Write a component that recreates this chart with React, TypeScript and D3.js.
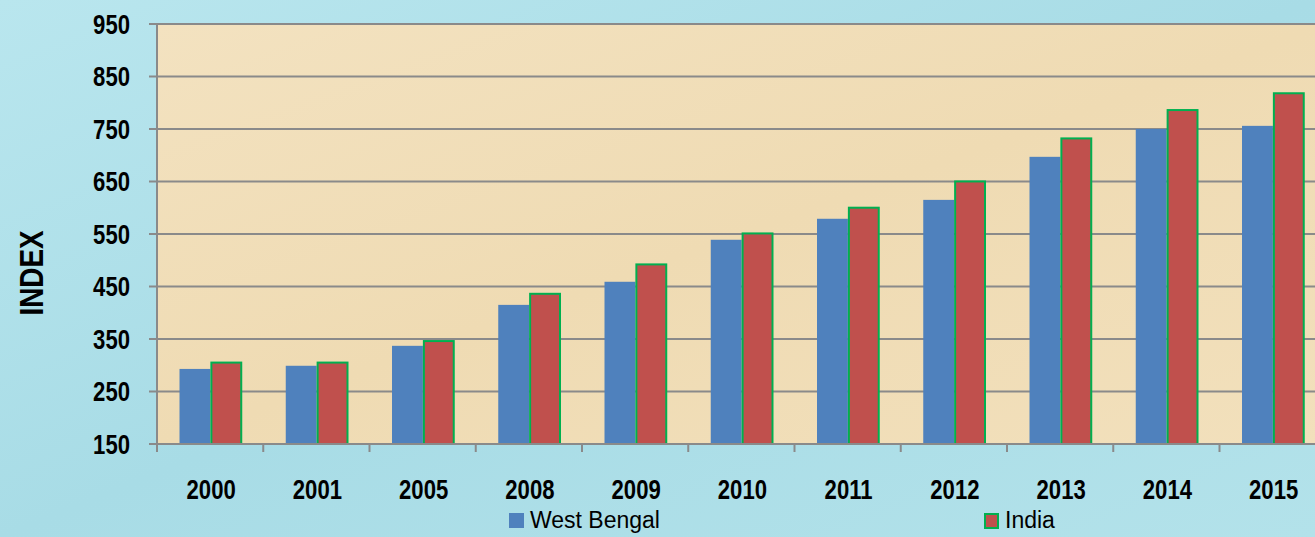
import { useEffect, useRef } from "react";
import * as d3 from "d3";

const years = ["2000", "2001", "2005", "2008", "2009", "2010", "2011", "2012", "2013", "2014", "2015"];
const westBengal = [293, 299, 337, 415, 459, 539, 579, 615, 697, 750, 756];
const india = [307, 307, 348, 438, 494, 553, 602, 652, 734, 788, 820];
const seriesNames = ["West Bengal", "India"];
const yTicks = [150, 250, 350, 450, 550, 650, 750, 850, 950];

export default function App() {
    const ref = useRef<SVGSVGElement>(null);

    useEffect(() => {
        const width = 1315;
        const height = 537;
        const left = 157;
        const top = 24;
        const bottom = 444;
        const step = 106.25;
        const squeeze = 0.82; // fake a narrow face

        const svg = d3.select(ref.current)
            .attr("width", width)
            .attr("height", height);

        svg.selectAll("*").remove();

        // backgrounds
        const defs = svg.append("defs");
        const bg = defs.append("linearGradient").attr("id", "bgGrad")
            .attr("x1", 0).attr("y1", 0).attr("x2", 1).attr("y2", 1);
        bg.append("stop").attr("offset", "0%").attr("stop-color", "#b9e6ee");
        bg.append("stop").attr("offset", "50%").attr("stop-color", "#a8dce6");
        bg.append("stop").attr("offset", "100%").attr("stop-color", "#b3e2ea");

        const pa = defs.append("linearGradient").attr("id", "plotGrad")
            .attr("x1", 0).attr("y1", 0).attr("x2", 1).attr("y2", 1);
        pa.append("stop").attr("offset", "0%").attr("stop-color", "#f3e2c0");
        pa.append("stop").attr("offset", "50%").attr("stop-color", "#efdbb3");
        pa.append("stop").attr("offset", "100%").attr("stop-color", "#f2e0bc");

        svg.append("rect").attr("width", width).attr("height", height).attr("fill", "url(#bgGrad)");

        const x0 = d3.scaleBand()
            .domain(years)
            .range([left, left + step * years.length])
            .padding(0);

        const x1 = d3.scaleBand()
            .domain(seriesNames)
            .range([22.5, x0.bandwidth() - 22]);

        const y = d3.scaleLinear()
            .domain([150, 950])
            .range([bottom, top]);

        svg.append("rect")
            .attr("x", left)
            .attr("y", top)
            .attr("width", x0.range()[1] - left)
            .attr("height", bottom - top)
            .attr("fill", "url(#plotGrad)");

        // gridlines
        svg.append("g")
            .selectAll("line")
            .data(yTicks)
            .join("line")
            .attr("x1", left - 8)
            .attr("x2", x0.range()[1])
            .attr("y1", d => y(d))
            .attr("y2", d => y(d))
            .attr("stroke", "#8a8a8a")
            .attr("stroke-width", 2);

        // y axis line
        svg.append("line")
            .attr("x1", left).attr("x2", left)
            .attr("y1", top).attr("y2", bottom)
            .attr("stroke", "#8a8a8a").attr("stroke-width", 2);

        // x ticks
        svg.append("g")
            .selectAll("line")
            .data(years.concat(["end"]))
            .join("line")
            .attr("x1", (_, i) => left + i * x0.step())
            .attr("x2", (_, i) => left + i * x0.step())
            .attr("y1", bottom)
            .attr("y2", bottom + 8)
            .attr("stroke", "#8a8a8a")
            .attr("stroke-width", 2);

        const data = years.map((yr, i) => ({ year: yr, values: [westBengal[i], india[i]] }));
        const colors = ["#4f81bd", "#c0504d"];

        const groups = svg.append("g")
            .selectAll("g")
            .data(data)
            .join("g")
            .attr("transform", d => `translate(${x0(d.year)},0)`);

        groups.selectAll("rect")
            .data(d => d.values.map((v, j) => ({ name: seriesNames[j], v, j })))
            .join("rect")
            .attr("x", d => x1(d.name)! + (d.j === 1 ? 1 : 0))
            .attr("y", d => y(d.v) + (d.j === 1 ? 1 : 0))
            .attr("width", d => x1.bandwidth() - (d.j === 1 ? 1 : 0))
            .attr("height", d => bottom - y(d.v) - (d.j === 1 ? 1 : 0))
            .attr("fill", d => colors[d.j])
            .attr("stroke", d => (d.j === 1 ? "#00b050" : "none"))
            .attr("stroke-width", 2);

        // x axis line
        svg.append("line")
            .attr("x1", left - 8).attr("x2", x0.range()[1])
            .attr("y1", bottom).attr("y2", bottom)
            .attr("stroke", "#8a8a8a").attr("stroke-width", 2);

        const font = "'Liberation Sans', Arial, sans-serif";

        // y labels
        svg.append("g")
            .selectAll("text")
            .data(yTicks)
            .join("text")
            .attr("transform", d => `translate(130,${y(d)}) scale(${squeeze},1)`)
            .attr("dy", "0.36em")
            .attr("text-anchor", "end")
            .attr("font-family", font)
            .attr("font-weight", "bold")
            .attr("font-size", 27)
            .attr("fill", "#000")
            .text(d => d);

        // x labels
        svg.append("g")
            .selectAll("text")
            .data(years)
            .join("text")
            .attr("transform", d => `translate(${x0(d)! + x0.bandwidth() / 2 + 1},499) scale(${squeeze},1)`)
            .attr("text-anchor", "middle")
            .attr("font-family", font)
            .attr("font-weight", "bold")
            .attr("font-size", 27)
            .attr("fill", "#000")
            .text(d => d);

        svg.append("text")
            .attr("transform", `translate(43,273) rotate(-90) scale(${squeeze},1)`)
            .attr("text-anchor", "middle")
            .attr("font-family", font)
            .attr("font-weight", "bold")
            .attr("font-size", 34)
            .attr("fill", "#000")
            .text("INDEX");

        // legend
        const legendX = [509, 984];
        const legend = svg.append("g")
            .selectAll("g")
            .data(seriesNames)
            .join("g")
            .attr("transform", (_, i) => `translate(${legendX[i]},513)`);

        legend.append("rect")
            .attr("x", (_, i) => (i === 1 ? 1 : 0))
            .attr("y", (_, i) => (i === 1 ? 1 : 0))
            .attr("width", (_, i) => (i === 1 ? 13 : 15))
            .attr("height", (_, i) => (i === 1 ? 14 : 15))
            .attr("fill", (_, i) => colors[i])
            .attr("stroke", (_, i) => (i === 1 ? "#00b050" : "none"))
            .attr("stroke-width", 2);

        legend.append("text")
            .attr("transform", "translate(21,15)")
            .attr("font-family", font)
            .attr("font-size", 23)
            .attr("fill", "#000")
            .text(d => d);
    }, []);

    return (
        <svg ref={ref} style={{ position: "absolute", left: 0, top: 0, display: "block" }}></svg>
    );
}
